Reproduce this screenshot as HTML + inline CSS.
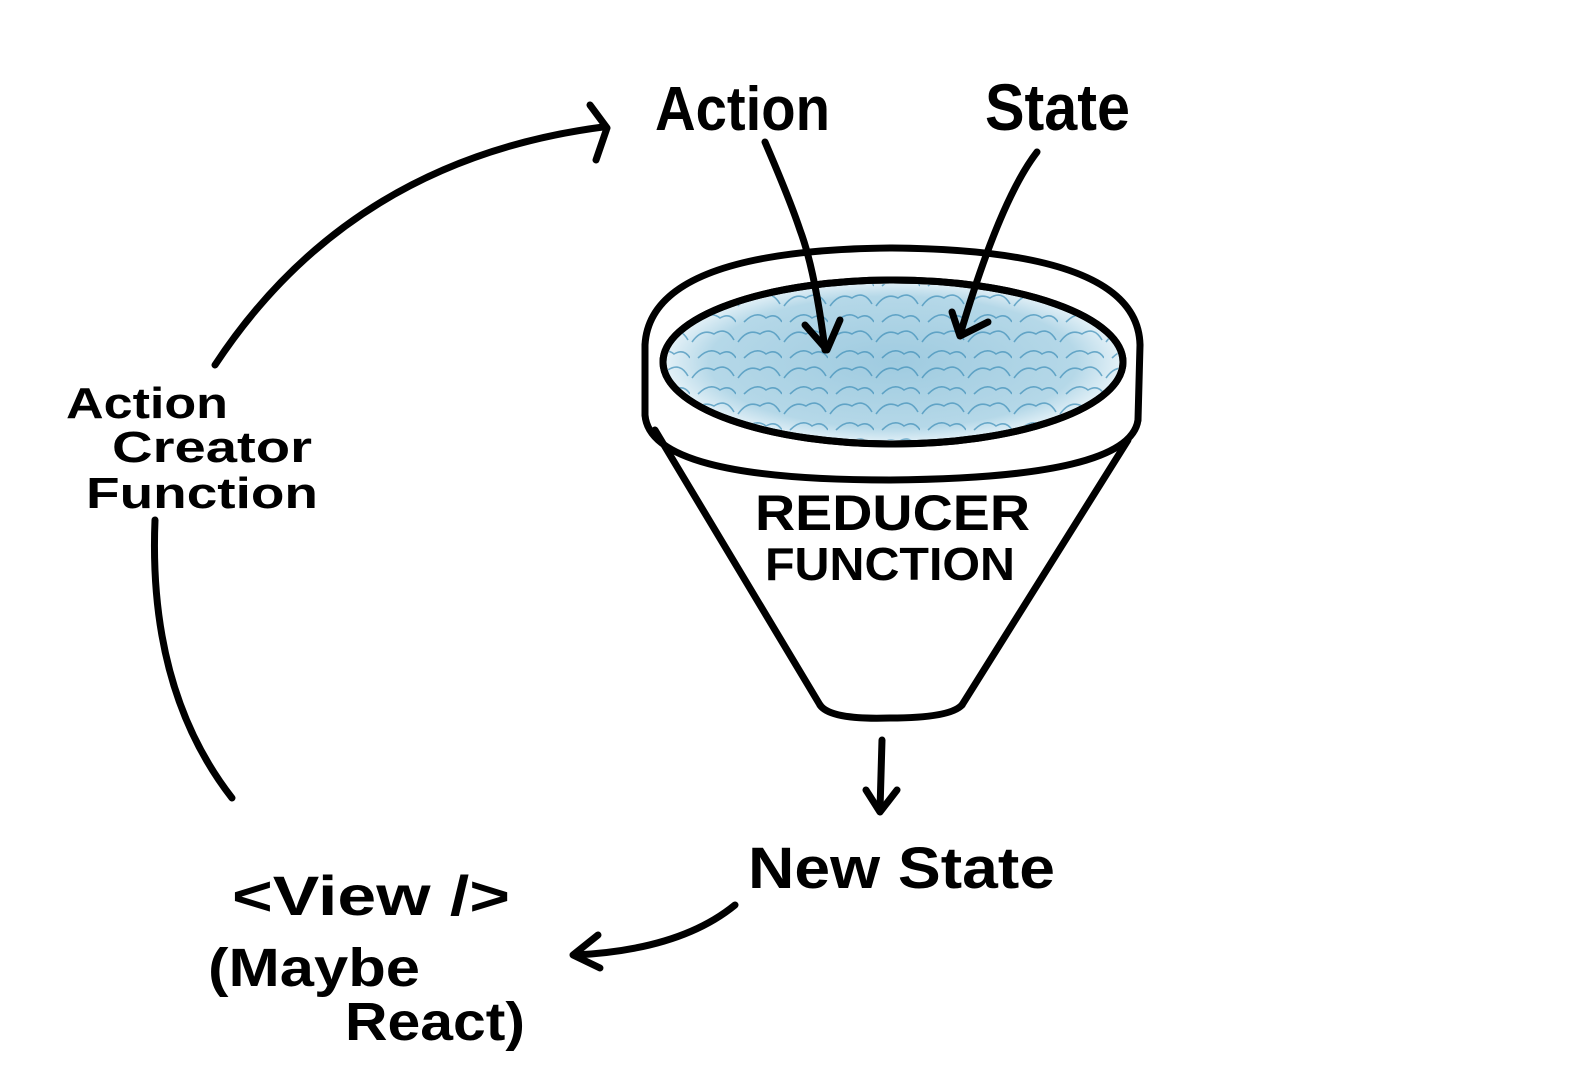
<!DOCTYPE html>
<html><head><meta charset="utf-8"><style>
html,body{margin:0;padding:0;background:#fff;}
svg{display:block}
text{font-family:"Liberation Sans",sans-serif;font-weight:bold;fill:#000}
</style></head><body>
<svg width="1576" height="1072" viewBox="0 0 1576 1072" xmlns="http://www.w3.org/2000/svg">
<defs>
<radialGradient id="g" cx="50%" cy="50%" r="50%">
<stop offset="0" stop-color="#9fcbe0"/><stop offset="0.8" stop-color="#b5d8e8"/><stop offset="1" stop-color="#e6f2f8"/>
</radialGradient>
<pattern id="p" width="46" height="36" patternUnits="userSpaceOnUse">
<path d="M2 18 Q12 4 24 10 Q36 2 44 16 M8 34 Q20 22 30 30 Q40 24 46 34" stroke="#3f8fb8" stroke-width="1.6" fill="none" opacity="0.7"/>
</pattern>
</defs>
<g fill="none" stroke="#000" stroke-width="7" stroke-linecap="round" stroke-linejoin="round">
<ellipse cx="893" cy="362" rx="230" ry="82" fill="url(#g)"/>
<ellipse cx="893" cy="362" rx="226" ry="78" fill="url(#p)" stroke="none"/>
<ellipse cx="893" cy="362" rx="230" ry="82"/>
<path d="M645 345 Q650 250 892 248 Q1138 250 1140 345"/>
<path d="M645 345 L645 415"/>
<path d="M1140 345 L1138 420"/>
<path d="M645 415 Q650 480 890 480 Q1130 478 1138 420"/>
<path d="M655 430 L820 705"/>
<path d="M1128 440 L962 705"/>
<path d="M820 705 Q830 720 890 718 Q950 718 962 705"/>
<path d="M215 365 Q350 160 603 127"/>
<path d="M590 105 L607 128 L596 160"/>
<path d="M765 142 Q790 200 800 230 Q815 270 825 350"/>
<path d="M805 325 L827 350 L840 320"/>
<path d="M1037 152 Q1000 200 960 335"/>
<path d="M952 312 L960 336 L988 322"/>
<path d="M882 740 L880 810"/>
<path d="M866 790 L880 812 L897 790"/>
<path d="M735 905 Q680 950 575 955"/>
<path d="M598 935 L573 955 L600 968"/>
<path d="M155 520 Q148 690 232 798"/>
</g>
<text x="655" y="130" font-size="62" textLength="175" lengthAdjust="spacingAndGlyphs">Action</text>
<text x="985" y="130" font-size="66" textLength="145" lengthAdjust="spacingAndGlyphs">State</text>
<text x="755" y="530" font-size="50" textLength="275" lengthAdjust="spacingAndGlyphs">REDUCER</text>
<text x="765" y="580" font-size="46" textLength="250" lengthAdjust="spacingAndGlyphs">FUNCTION</text>
<text x="748" y="888" font-size="58" textLength="307" lengthAdjust="spacingAndGlyphs">New State</text>
<text x="66" y="418" font-size="44" textLength="162" lengthAdjust="spacingAndGlyphs">Action</text>
<text x="112" y="462" font-size="44" textLength="200" lengthAdjust="spacingAndGlyphs">Creator</text>
<text x="86" y="508" font-size="44" textLength="232" lengthAdjust="spacingAndGlyphs">Function</text>
<text x="232" y="915" font-size="56" textLength="278" lengthAdjust="spacingAndGlyphs">&lt;View /&gt;</text>
<text x="208" y="986" font-size="54" textLength="212" lengthAdjust="spacingAndGlyphs">(Maybe</text>
<text x="345" y="1040" font-size="54" textLength="180" lengthAdjust="spacingAndGlyphs">React)</text>
</svg>
</body></html>
